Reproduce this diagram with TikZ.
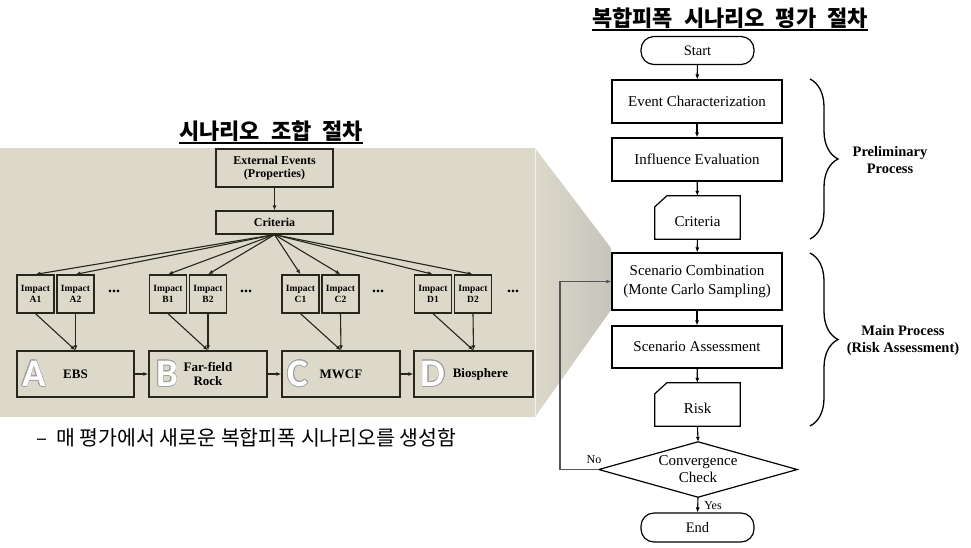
\documentclass[tikz,border=0pt]{standalone}
\usepackage{fontspec}
\setmainfont{Liberation Serif}
\newfontfamily\kr{Noto Sans CJK KR}
\newfontfamily\ltr{Carlito}
\usepackage{contour}
\contourlength{0.7pt}
\usetikzlibrary{arrows.meta,decorations.pathreplacing}
\definecolor{panel}{HTML}{DCD9CA}
\definecolor{funnel}{HTML}{C6C4BC}
\definecolor{lc}{HTML}{26261A}
\definecolor{loopc}{HTML}{555555}
\tikzset{
  lbox/.style={draw=lc, line width=1.3pt, align=center, inner sep=1pt, font=\bfseries\fontsize{12}{13}\selectfont},
  imp/.style={lbox, minimum width=37pt, minimum height=38pt, font=\bfseries\fontsize{9.5}{11}\selectfont},
  bigb/.style={lbox, minimum height=46pt, font=\bfseries\fontsize{13}{14}\selectfont},
  dots/.style={font=\bfseries\fontsize{16}{16}\selectfont, inner sep=0pt},
  bigl/.style={text=white, font=\ltr\bfseries\fontsize{39}{39}\selectfont, inner sep=0pt},
  larr/.style={draw=lc, line width=1.1pt, -{Latex[length=5pt,width=4pt]}},
  fbox/.style={draw, fill=white, line width=1.2pt, minimum width=170pt, minimum height=43pt, align=center, font=\fontsize{15}{19}\selectfont},
  term/.style={draw, fill=white, line width=1.2pt, rounded corners=13pt, minimum width=113pt, minimum height=28pt, font=\fontsize{14.5}{16}\selectfont},
  card/.style={minimum width=85pt, minimum height=43pt, text depth=0pt},
  ctext/.style={font=\fontsize{15}{17}\selectfont},
  farr/.style={line width=1.1pt, -{Latex[length=5pt,width=4pt]}},
  brc/.style={decorate, decoration={brace, amplitude=28pt}, line width=1.3pt},
  blab/.style={align=center, font=\bfseries\fontsize{14.5}{17}\selectfont},
  ttl/.style={font=\kr\bfseries\fontsize{22}{24}\selectfont, inner sep=0pt},
  small/.style={font=\fontsize{12}{13}\selectfont},
}
\begin{document}
\begin{tikzpicture}[x=1pt,y=-1pt]
\useasboundingbox (0,0) rectangle (971,547);
% panel and funnel
\fill[panel] (0,148) rectangle (535,417);
\shade[left color=panel, right color=funnel] (535,148) -- (611,248) -- (611,310) -- (535,417) -- cycle;
\draw[white!60!panel, line width=0.8pt] (535,148) -- (535,417);
% titles
\node[ttl] (t1) at (271,131) {시나리오\hspace{0.5em}조합\hspace{0.5em}절차};
\draw[line width=1.6pt] ([yshift=-1.5pt]t1.south west) -- ([yshift=-1.5pt]t1.south east);
\node[ttl] (t2) at (730,18) {복합피폭\hspace{0.5em}시나리오\hspace{0.5em}평가\hspace{0.5em}절차};
\draw[line width=1.6pt] ([yshift=-1.5pt]t2.south west) -- ([yshift=-1.5pt]t2.south east);
% left diagram
\node[lbox, minimum width=117pt, minimum height=38pt] (ext) at (274.5,168) {External Events\\(Properties)};
\node[lbox, minimum width=117pt, minimum height=23pt] (crit) at (274.5,222.5) {Criteria};
\node[imp] (a1) at (35.5,294) {Impact\\A1};
\node[imp] (a2) at (75.5,294) {Impact\\A2};
\node[imp] (b1) at (168,294) {Impact\\B1};
\node[imp] (b2) at (208,294) {Impact\\B2};
\node[imp] (c1) at (300.5,294) {Impact\\C1};
\node[imp] (c2) at (340.5,294) {Impact\\C2};
\node[imp] (d1) at (433,294) {Impact\\D1};
\node[imp] (d2) at (473,294) {Impact\\D2};
\node[dots] (da) at (114,291) {...};
\node[dots] (db) at (246,291) {...};
\node[dots] (dc) at (378,291) {...};
\node[dots] (dd) at (513,291) {...};
\node[bigb, minimum width=117pt] (ebs) at (75.5,374) {EBS};
\node[bigb, minimum width=118pt] (far) at (208,374) {Far-field\\Rock};
\node[bigb, minimum width=118pt] (mwcf) at (341,374) {MWCF};
\node[bigb, minimum width=119pt] (bio) at (473.5,374) {\hspace{14pt}Biosphere};
\node[bigl] (la) at (34,374) {\contour{gray!75}{A}};
\node[bigl] (lb) at (167,374) {\contour{gray!75}{B}};
\node[bigl] (lcc) at (298,374) {\contour{gray!75}{C}};
\node[bigl] (ld) at (433,374) {\contour{gray!75}{D}};
\draw[larr] (ext) -- (crit);
\foreach \n in {a1,a2,b1,b2,c1,c2,d1,d2} { \draw[larr] (crit.south) -- (\n.north); }
\draw[larr] (a1.south) -- (ebs.north);
\draw[larr] (a2.south) -- (ebs.north);
\draw[larr] (b1.south) -- (far.north);
\draw[larr] (b2.south) -- (far.north);
\draw[larr] (c1.south) -- (mwcf.north);
\draw[larr] (c2.south) -- (mwcf.north);
\draw[larr] (d1.south) -- (bio.north);
\draw[larr] (d2.south) -- (bio.north);
\draw[larr] (ebs) -- (far);
\draw[larr] (far) -- (mwcf);
\draw[larr] (mwcf) -- (bio);
% subtitle
\node[font=\kr\fontsize{20.5}{22}\selectfont, anchor=west, inner sep=0pt] (sub) at (36,438) {–\hspace{0.45em}매 평가에서 새로운 복합피폭 시나리오를 생성함};
% right flowchart
\node[term] (start) at (697.5,50.5) {Start};
\node[fbox] (ec) at (697,101.5) {Event Characterization};
\node[fbox] (ie) at (697,159.5) {Influence Evaluation};
\node[card] (cr) at (697.5,217.5) {};
\draw[line width=1.2pt, fill=white] ([xshift=12pt]cr.north west) -- (cr.north east) -- (cr.south east) -- (cr.south west) -- ([yshift=-11pt]cr.north west) -- cycle;
\node[ctext] at ([yshift=-4pt]cr.center) {Criteria};
\node[fbox, minimum height=57pt] (sc) at (697,281.5) {Scenario Combination\\(Monte Carlo Sampling)};
\node[fbox, minimum height=42pt] (sa) at (697,347) {Scenario Assessment};
\node[card] (rk) at (697.5,404.5) {};
\draw[line width=1.2pt, fill=white] ([xshift=12pt]rk.north west) -- (rk.north east) -- (rk.south east) -- (rk.south west) -- ([yshift=-11pt]rk.north west) -- cycle;
\node[ctext] at ([yshift=-4pt]rk.center) {Risk};
\node[minimum width=198pt, minimum height=55pt, align=center, font=\fontsize{15}{17}\selectfont] (cv) at (698,469.5) {Convergence\\Check};
\draw[line width=1.2pt] (cv.north) -- (cv.east) -- (cv.south) -- (cv.west) -- cycle;
\node[term, minimum height=29pt] (end) at (697.5,527.5) {End};
\draw[farr] (start) -- (ec);
\draw[farr] (ec) -- (ie);
\draw[farr] (ie) -- (cr);
\draw[farr] (cr) -- (sc);
\draw[farr] (sc) -- (sa);
\draw[farr] (sa) -- (rk);
\draw[farr] (rk.south) -- (cv.north);
\draw[farr] (cv.south) -- (end.north);
\coordinate (lp) at (560,469.5);
\draw[farr, draw=loopc] (cv.west) -- (lp) |- (sc.west);
\node[small] (no) at (594,460) {No};
\node[small] (yes) at (713,506) {Yes};
% braces
\draw[brc] (810,79) -- (810,239);
\draw[brc] (810,253) -- (810,426);
\node[blab] (pp) at (890,160) {Preliminary\\Process};
\node[blab] (mp) at (903,341) {Main Process\\(Risk Assessment)};
\end{tikzpicture}
\end{document}
